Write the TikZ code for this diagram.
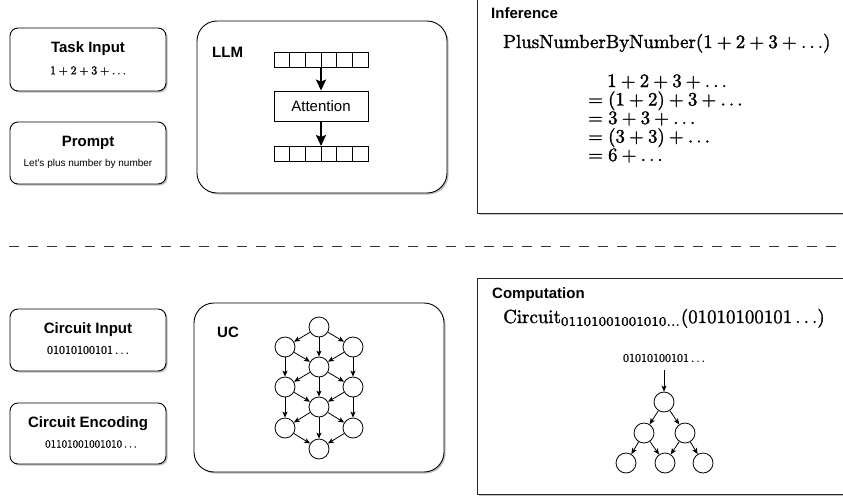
\documentclass[tikz,border=0pt]{standalone}
\usepackage{graphicx}
\usepackage[no-math]{fontspec}
\newfontfamily\arial{Liberation Sans}
\usetikzlibrary{arrows.meta,shadows}
\newcommand\Heavy[2]{\special{pdf:literal q 2 Tr #1 w}#2\special{pdf:literal Q}}
\newcommand\BigMath[1]{\Heavy{0.15}{\scalebox{1.89}{$#1$}}}
\newcommand\ScMath[2]{\Heavy{0.1}{\scalebox{#1}{$#2$}}}
\begin{document}
\begin{tikzpicture}[x=1pt,y=-1pt,
  shade/.style={drop shadow={shadow xshift=1.6pt,shadow yshift=-1.6pt,opacity=0.35,fill=black!70}},
  box/.style={draw=black, line width=0.9pt, fill=white, rounded corners=8pt, inner sep=0, shade},
  bigbox/.style={draw=black, line width=0.9pt, fill=white, rounded corners=20pt, inner sep=0, shade},
  panel/.style={draw=black!85, line width=0.9pt, fill=white, inner sep=0, shade},
  title/.style={font=\arial\bfseries\fontsize{15}{18}\selectfont, inner sep=0},
  plain/.style={font=\arial\fontsize{15}{18}\selectfont, inner sep=0},
  small/.style={font=\arial\fontsize{10}{12}\selectfont, inner sep=0},
  mth/.style={font=\fontsize{10}{12}\selectfont, inner sep=0},
  bigmth/.style={font=\fontsize{10}{12}\selectfont, inner sep=0, anchor=base west},
  cell/.style={draw=black, line width=0.8pt, fill=white, minimum width=15.67pt, minimum height=15pt, inner sep=0, outer sep=0},
  attn/.style={draw=black, line width=0.8pt, fill=white, minimum width=94pt, minimum height=30pt, inner sep=0},
  circ/.style={circle, draw=black, line width=0.8pt, fill=white, minimum size=20pt, inner sep=0},
  thick arrow/.style={line width=1.8pt, -{Stealth[length=11pt,width=10pt,inset=2pt]}},
  thin arrow/.style={line width=0.8pt, -{Stealth[length=6pt,width=5pt,inset=1.5pt]}},
]
\useasboundingbox (0,0) rectangle (843,496);
\clip (0,0) rectangle (843,496);

% ---------- upper half ----------
\node[box, minimum width=156pt, minimum height=63pt] (taskbox) at (88,59.5) {};
\node[title] (tasktitle) at (88,49) {Task Input};
\node[mth] (taskmath) at (88,71) {\ScMath{1.2}{1+2+3+\ldots}};

\node[box, minimum width=156pt, minimum height=62pt] (promptbox) at (88,153) {};
\node[title] (prompttitle) at (88,143) {Prompt};
\node[small] (prompttext) at (88,164) {Let's plus number by number};

\node[bigbox, minimum width=250pt, minimum height=172pt] (llmbox) at (322,107) {};
\node[title, anchor=west] (llmlabel) at (212,52) {LLM};

\foreach \i in {1,...,6} {
  \node[cell] (in\i) at ({274+15.67*(\i-0.5)},59.5) {};
  \node[cell] (out\i) at ({274+15.67*(\i-0.5)},153.5) {};
}
\node[attn] (attention) at (321,106) {};
\node[plain] (attntext) at (321,106) {Attention};
\draw[thick arrow] (in3.south east) -- (attention.north);
\draw[thick arrow] (attention.south) -- (out3.north east);

\node[panel, minimum width=383pt, minimum height=233pt] (infbox) at (668.5,96.5) {};
\node[title, anchor=west] (inflabel) at (491,13) {Inference};
\node[bigmth] (plus) at (503,48) {\BigMath{\mathrm{PlusNumberByNumber}(1+2+3+\ldots)}};
\node[bigmth] (eq1) at (607,87) {\BigMath{1+2+3+\ldots}};
\node[bigmth] (eq2) at (588,105.5) {\BigMath{=(1+2)+3+\ldots}};
\node[bigmth] (eq3) at (588,124) {\BigMath{=3+3+\ldots}};
\node[bigmth] (eq4) at (588,142.5) {\BigMath{=(3+3)+\ldots}};
\node[bigmth] (eq5) at (588,161) {\BigMath{=6+\ldots}};

% ---------- separator ----------
\coordinate (sepL) at (9,246);
\coordinate (sepR) at (843,246);
\draw[black!80, line width=0.9pt, dash pattern=on 10pt off 9pt] (sepL) -- (sepR);

% ---------- lower half ----------
\node[box, minimum width=156pt, minimum height=62pt] (cinbox) at (88,340) {};
\node[title] (cintitle) at (88,330) {Circuit Input};
\node[mth] (cinmath) at (88,350) {\ScMath{1.2}{01010100101\ldots}};

\node[box, minimum width=156pt, minimum height=61pt] (cencbox) at (88,433.5) {};
\node[title] (cenctitle) at (88,424) {Circuit Encoding};
\node[mth] (cencmath) at (91,444) {\ScMath{1.1}{01101001001010\ldots}};

\node[bigbox, minimum width=250pt, minimum height=169pt] (ucbox) at (319,387.5) {};
\node[title, anchor=west] (uclabel) at (217,332) {UC};

\node[circ] (g1) at (319,327) {};
\node[circ] (g2l) at (285,347) {};
\node[circ] (g2r) at (353,347) {};
\node[circ] (g3) at (319,367) {};
\node[circ] (g4l) at (285,387) {};
\node[circ] (g4r) at (353,387) {};
\node[circ] (g5) at (319,407) {};
\node[circ] (g6l) at (285,428) {};
\node[circ] (g6r) at (353,428) {};
\node[circ] (g7) at (319,449) {};
\foreach \a/\b in {g1/g2l,g1/g3,g1/g2r,g2l/g3,g2r/g3,g2l/g4l,g2r/g4r,
                   g3/g4l,g3/g4r,g3/g5,g4l/g5,g4r/g5,g4l/g6l,g4r/g6r,
                   g5/g6l,g5/g6r,g5/g7,g6l/g7,g6r/g7}
  \draw[thin arrow] (\a) -- (\b);

\node[panel, minimum width=383pt, minimum height=216pt] (compbox) at (668.5,386) {};
\node[title, anchor=west] (complabel) at (492,295) {Computation};
\node[bigmth] (circexpr) at (503,323) {\BigMath{\mathrm{Circuit}_{01101001001010\ldots}(01010100101\ldots)}};
\node[mth] (compin) at (664,358) {\ScMath{1.2}{01010100101\ldots}};
\node[circ] (c1) at (664,402) {};
\node[circ] (m1) at (644,433) {};
\node[circ] (m2) at (685,433) {};
\node[circ] (b1) at (626,463) {};
\node[circ] (b2) at (665,463) {};
\node[circ] (b3) at (703,463) {};
\coordinate (compstart) at (664,370);
\draw[thin arrow] (compstart) -- (c1);
\foreach \a/\b in {c1/m1,c1/m2,m1/b1,m1/b2,m2/b2,m2/b3}
  \draw[thin arrow] (\a) -- (\b);
\end{tikzpicture}
\end{document}
